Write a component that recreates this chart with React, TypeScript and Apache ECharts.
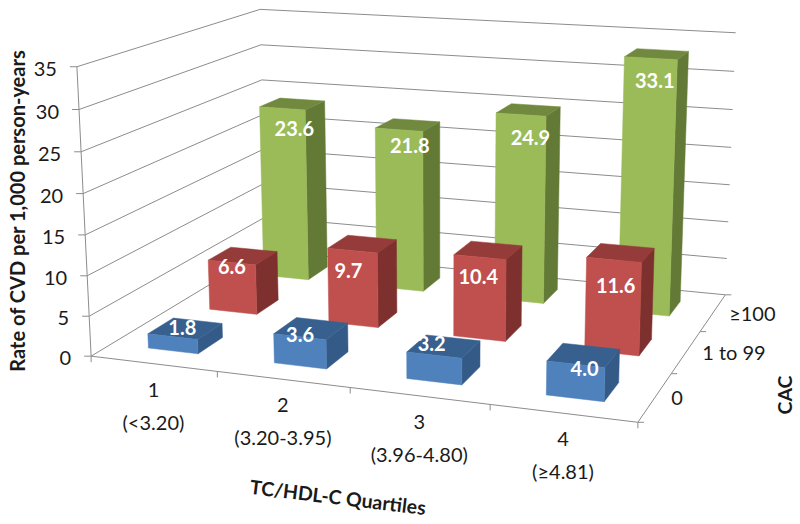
import React, { useEffect, useRef } from "react";
import * as echarts from "echarts";

const quartiles = ["1", "2", "3", "4"];
const quartileRanges = ["(<3.20)", "(3.20-3.95)", "(3.96-4.80)", "(≥4.81)"];
const cacLevels = ["0", "1 to 99", "≥100"];
const cac0 = [1.8, 3.6, 3.2, 4.0];
const cac1to99 = [6.6, 9.7, 10.4, 11.6];
const cac100 = [23.6, 21.8, 24.9, 33.1];
const yTicks = [0, 5, 10, 15, 20, 25, 30, 35];
const yMax = 35;

// Hand-placed data labels in the source: nudge (px) from the centre of each bar's top
const nudge0 = [[-3, -2], [-11, 6], [-12, -3], [1, 13]];
const nudge1 = [[-11, 10], [-14, 26], [-10, 26], [-5, 32]];
const nudge100 = [[2, 24], [2, 20], [2, 27], [-2, 26]];

// Camera calibration: scene point (quartile, cac, rate) -> pixel
const anchors: number[][] = [
  [0, 0, 0, 91, 353], [1, 0, 0, 217, 372], [2, 0, 0, 349, 390], [4, 0, 0, 638, 423],
  [4, 1, 0, 672, 373], [4, 2, 0, 700, 331], [4, 3, 0, 725, 293], [0, 3, 0, 267, 253],
  [0, 0, 35, 78, 67], [0, 3, 35, 259, 8], [4, 3, 35, 736, 34],
];

function solveCamera(pts: number[][]): number[] {
  const n = 11;
  const A = Array.from({ length: n }, () => new Array(n + 1).fill(0));
  const add = (r: number[], b: number) => {
    for (let i = 0; i < n; i++) {
      for (let j = 0; j < n; j++) A[i][j] += r[i] * r[j];
      A[i][n] += r[i] * b;
    }
  };
  for (const [x, y, z, u, v] of pts) {
    add([x, y, z, 1, 0, 0, 0, 0, -u * x, -u * y, -u * z], u);
    add([0, 0, 0, 0, x, y, z, 1, -v * x, -v * y, -v * z], v);
  }
  for (let c = 0; c < n; c++) {
    let p = c;
    for (let r = c + 1; r < n; r++) if (Math.abs(A[r][c]) > Math.abs(A[p][c])) p = r;
    [A[c], A[p]] = [A[p], A[c]];
    for (let r = 0; r < n; r++) {
      if (r === c) continue;
      const f = A[r][c] / A[c][c];
      for (let k = c; k <= n; k++) A[r][k] -= f * A[c][k];
    }
  }
  return A.map((row, i) => row[n] / row[i]);
}
const M = solveCamera(anchors);
const P = (x: number, y: number, z: number): number[] => {
  const w = M[8] * x + M[9] * y + M[10] * z + 1;
  return [(M[0] * x + M[1] * y + M[2] * z + M[3]) / w, (M[4] * x + M[5] * y + M[6] * z + M[7]) / w];
};

const FONT = "Lato, 'Open Sans', sans-serif";
const GRID = "#8c8c8c";
const GAP = 0.3;
const SIZE = 0.4;

const line = (a: number[], b: number[]) => ({
  type: "line",
  shape: { x1: a[0], y1: a[1], x2: b[0], y2: b[1] },
  style: { stroke: GRID, lineWidth: 1 },
});
const label = (x: number, y: number, text: string, align = "center") => ({
  type: "text",
  style: { x, y, text, fill: "#1a1a1a", font: `20px ${FONT}`, align, verticalAlign: "middle" },
});

function barSeries(values: number[], row: number, front: string, top: string, side: string, nudges: number[][]) {
  return {
    type: "custom",
    coordinateSystem: "none",
    silent: true,
    data: values.map((v, i) => [i, row, v]),
    renderItem: (_p: any, api: any) => {
      const q = api.value(0), r = api.value(1), v = api.value(2);
      const x0 = q + GAP, x1 = x0 + SIZE, y0 = r + GAP, y1 = y0 + SIZE;
      const poly = (pts: number[][], fill: string) => ({
        type: "polygon",
        shape: { points: pts },
        style: { fill, stroke: fill, lineWidth: 0.5 },
      });
      const c = P(q + 0.5, r + 0.5, v);
      return {
        type: "group",
        children: [
          poly([P(x1, y0, 0), P(x1, y1, 0), P(x1, y1, v), P(x1, y0, v)], side),
          poly([P(x0, y0, v), P(x1, y0, v), P(x1, y1, v), P(x0, y1, v)], top),
          poly([P(x0, y0, 0), P(x1, y0, 0), P(x1, y0, v), P(x0, y0, v)], front),
          {
            type: "text",
            style: {
              x: c[0] + nudges[q][0],
              y: c[1] + nudges[q][1],
              text: v.toFixed(1),
              fill: "#ffffff",
              font: `bold 20px ${FONT}`,
              align: "center",
              verticalAlign: "middle",
            },
          },
        ],
      };
    },
  };
}

const wallSeries = {
  type: "custom",
  coordinateSystem: "none",
  silent: true,
  data: yTicks.map((v) => [v]),
  renderItem: (_p: any, api: any) => {
    const v = api.value(0);
    const a = P(0, 0, v), b = P(0, 3, v), c = P(4, 3, v);
    return {
      type: "group",
      children: [
        line(a, b),
        line(b, c),
        line([a[0] - 7, a[1]], a),
        label(a[0] - 20, a[1] + 1, String(v), "right"),
      ],
    };
  },
};

const floorSeries = {
  type: "custom",
  coordinateSystem: "none",
  silent: true,
  data: [[0]],
  renderItem: () => {
    const children: any[] = [line(P(0, 0, 0), P(0, 0, yMax)), line(P(0, 0, 0), P(4, 0, 0)), line(P(4, 0, 0), P(4, 3, 0))];
    for (let i = 0; i <= quartiles.length; i++) {
      const p = P(i, 0, 0);
      children.push(line(p, [p[0], p[1] + 6]));
    }
    for (let j = 0; j <= cacLevels.length; j++) {
      const p = P(4, j, 0);
      children.push(line(p, [p[0] + 6, p[1]]));
    }
    quartiles.forEach((q, i) => {
      const p = P(i + 0.5, 0, 0);
      children.push(label(p[0], p[1] + 25, q));
      children.push(label(p[0], p[1] + 58, quartileRanges[i]));
    });
    cacLevels.forEach((c, j) => {
      const p = P(4, j + 0.5, 0);
      children.push(label(p[0] + 16, p[1], c, "left"));
    });
    return { type: "group", children };
  },
};

export default function App() {
  const ref = useRef<HTMLDivElement>(null);
  useEffect(() => {
    const chart = echarts.init(ref.current!, null, { renderer: "svg" });
    chart.setOption({
      animation: false,
      backgroundColor: "#ffffff",
      series: [
        wallSeries,
        floorSeries,
        barSeries(cac100, 2, "#9BBB59", "#71893F", "#637A36", nudge100),
        barSeries(cac1to99, 1, "#C0504D", "#953B39", "#7E302E", nudge1),
        barSeries(cac0, 0, "#4F81BD", "#38608F", "#345A87", nudge0),
      ],
      graphic: [
        {
          type: "text",
          x: 17,
          y: 211,
          rotation: Math.PI / 2,
          style: { text: "Rate of CVD per 1,000 person-years", fill: "#1a1a1a", font: `bold 20px ${FONT}`, align: "center", verticalAlign: "middle" },
        },
        {
          type: "text",
          x: 338,
          y: 497,
          rotation: -0.12,
          style: { text: "TC/HDL-C Quartiles", fill: "#1a1a1a", font: `bold 19.5px ${FONT}`, align: "center", verticalAlign: "middle" },
        },
        {
          type: "text",
          x: 784,
          y: 395,
          rotation: Math.PI / 2,
          style: { text: "CAC", fill: "#1a1a1a", font: `bold 19.5px ${FONT}`, align: "center", verticalAlign: "middle" },
        },
      ],
    });
    return () => chart.dispose();
  }, []);
  return <div ref={ref} style={{ position: "absolute", left: 0, top: 0, width: 800, height: 524 }} />;
}
